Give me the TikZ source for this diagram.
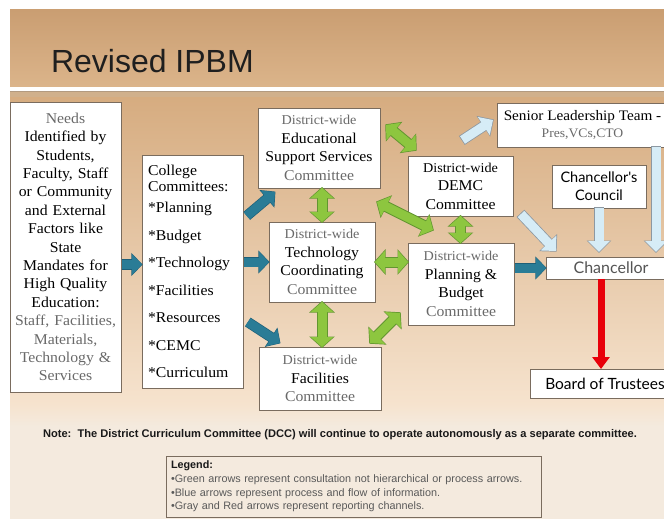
\documentclass[tikz,border=0pt]{standalone}
\usepackage{fontspec}
\setmainfont{Liberation Serif}[FakeStretch=1.05]
\newfontfamily\arialfont{Liberation Sans}
\newfontfamily\tempusfont{Lato}
\usetikzlibrary{arrows.meta, calc, positioning, shadings}
\definecolor{title_top}{RGB}{202, 158, 114}
\definecolor{title_bottom}{RGB}{219, 180, 138}
\definecolor{panel_top}{RGB}{214, 172, 128}
\definecolor{panel_low}{RGB}{246, 227, 206}
\definecolor{note_bg}{RGB}{244, 234, 222}
\definecolor{stripe_fill}{RGB}{208, 176, 140}
\definecolor{stripe_line}{RGB}{178, 154, 128}
\definecolor{box_line}{RGB}{122, 108, 94}
\definecolor{txt_gray}{RGB}{105, 105, 105}
\definecolor{my_teal}{RGB}{42, 124, 150}
\definecolor{my_tealdark}{RGB}{30, 95, 120}
\definecolor{my_green}{RGB}{141, 198, 63}
\definecolor{my_greendark}{RGB}{98, 150, 48}
\definecolor{my_lightblue}{RGB}{214, 236, 246}
\definecolor{my_bluegray}{RGB}{140, 152, 162}
\definecolor{my_red}{RGB}{232, 0, 10}
\pgfdeclareverticalshading{panelshade}{100bp}{color(0bp)=(note_bg); color(36bp)=(note_bg); color(38.6bp)=(panel_low); color(75bp)=(panel_top); color(100bp)=(panel_top)}
\newcommand{\dwline}{{\color{txt_gray}\fontsize{13.5}{18.5}\selectfont District-wide}}
\newcommand{\cmtline}{{\color{txt_gray}Committee}}
\tikzset {
  box/.style = {draw=box_line, line width=0.9pt, fill=white, anchor=north west, align=center, inner sep=3pt, font=\fontsize{15}{18.5}\selectfont},
  roundbox/.style = {box, font=\tempusfont\fontsize{14.5}{18}\selectfont},
  flow/.style = {line width=9pt, draw=my_teal, -{Triangle[width=20pt, length=10pt]}, shorten <=1pt,
    preaction={draw=my_tealdark, line width=10.4pt, -{Triangle[width=22.5pt, length=11.2pt]}, shorten >=-0.6pt}},
  consult/.style = {line width=9pt, draw=my_green, {Triangle[width=22pt, length=10pt]}-{Triangle[width=22pt, length=10pt]},
    preaction={draw=my_greendark, line width=11pt, {Triangle[width=25pt, length=11.5pt]}-{Triangle[width=25pt, length=11.5pt]}, shorten >=-1pt, shorten <=-1pt}},
  report/.style = {line width=9pt, draw=my_lightblue, -{Triangle[width=21pt, length=11pt]},
    preaction={draw=my_bluegray, line width=10.6pt, -{Triangle[width=24pt, length=12.5pt]}, shorten >=-1pt, shorten <=-0.8pt}},
  redline/.style = {line width=7pt, draw=my_red, -{Triangle[width=17pt, length=12pt]}}
}
\pgfdeclarelayer{background}
\pgfsetlayers{background,main}

\begin{document}
\begin{tikzpicture}[x=1pt, y=-1pt, outer sep=0pt]

    \useasboundingbox (0,0) rectangle (664,519);

    \node[anchor=base west, inner sep=0pt, font=\arialfont\fontsize{32}{38}\selectfont, text=black!88, name=title] (title) at (51,73) {Revised IPBM};

    \node[box, minimum width=111pt, minimum height=290pt, text width=105pt, font=\fontsize{15}{18.4}\selectfont, name=needs] (needs) at (10,102)
        {{\color{txt_gray}Needs}\\ Identified by\\ Students,\\ Faculty, Staff\\ or Community\\ and External\\ Factors like\\ State\\ Mandates for\\ High Quality\\ Education:\\
         {\color{txt_gray}Staff, Facilities,}\\ {\color{txt_gray}Materials,}\\ {\color{txt_gray}Technology \&}\\ {\color{txt_gray}Services}};
    \node[box, minimum width=101pt, minimum height=233pt, text width=89pt, inner xsep=6pt, align=left, font=\fontsize{15}{17.5}\selectfont, name=college] (college) at (142,155)
        {College\\[-2pt] Committees:\\[4pt] *Planning\\[10pt] *Budget\\[10pt] *Technology\\[10pt] *Facilities\\[10pt] *Resources\\[10pt] *CEMC\\[10pt] *Curriculum};

    \node[box, minimum width=122pt, minimum height=80pt, name=edsup] (edsup) at (258,108) {\dwline\\ Educational\\ Support Services\\ \cmtline};
    \node[box, minimum width=106pt, minimum height=80pt, name=tech] (tech) at (269,222) {\dwline\\ Technology\\ Coordinating\\ \cmtline};
    \node[box, minimum width=122pt, minimum height=63pt, name=facil] (facil) at (259,347) {\dwline\\ Facilities\\ \cmtline};
    \node[box, minimum width=105pt, minimum height=60pt, name=demc] (demc) at (408,156) {{\fontsize{13.5}{18.5}\selectfont District-wide}\\ DEMC\\ Committee};
    \node[box, minimum width=106pt, minimum height=82pt, name=pb] (pb) at (408,243) {\dwline\\ Planning \&\\ Budget\\ \cmtline};

    \node[box, minimum width=171pt, minimum height=44pt, font=\fontsize{14.5}{17}\selectfont, name=senior] (senior) at (497,103)
        {Senior Leadership Team -\\ {\color{txt_gray}\fontsize{13}{17}\selectfont Pres,VCs,CTO}};
    \node[roundbox, minimum width=94pt, minimum height=43pt, name=council] (council) at (552,165) {Chancellor's\\ Council};
    \node[roundbox, minimum width=130pt, minimum height=22pt, inner ysep=1pt, text=txt_gray!80!black, font=\tempusfont\fontsize{16}{18}\selectfont, name=chanc] (chanc) at (546,257) {Chancellor};
    \node[roundbox, minimum width=150pt, minimum height=29pt, font=\tempusfont\fontsize{15.5}{18}\selectfont, name=board] (board) at (530,369) {Board of Trustees};

    % process and flow of information
    \draw[flow] ([yshift=7pt]needs.east |- college.west) -- ([yshift=7pt]college.west);
    \draw[flow] ($(college.east)+(3,-55)$) -- ($(edsup.south west)+(17,4)$);
    \draw[flow] (college.east |- tech.west) -- (tech.west);
    \draw[flow] ($(college.east)+(4,50)$) -- ($(facil.north west)+(21,-4)$);
    \draw[flow] (pb.east |- chanc.west) -- (chanc.west);

    % consultation
    \draw[consult] ($(edsup.north east)+(6,17)$) -- ($(demc.north west)+(8,-6)$);
    \draw[consult] (tech.north |- edsup.south) -- (tech.north);
    \draw[consult] ($(tech.north east)+(2,-20)$) -- ($(pb.north west)+(25,-13)$);
    \draw[consult] (tech.east) -- (tech.east -| pb.west);
    \draw[consult] (tech.south) -- (tech.south |- facil.north);
    \draw[consult] ($(facil.north east)+(-11,-4)$) -- ($(pb.south west)+(-8,-12)$);
    \draw[consult] (demc.south) -- (demc.south |- pb.north);

    % reporting channels
    \draw[report] ($(demc.north)+(2,-16)$) -- ($(senior.west)+(-4,-5)$);
    \draw[report] ($(demc.south east)+(8,-2)$) -- ($(chanc.north west)+(10,-6)$);
    \draw[report] (council.south) -- ([yshift=5pt]council.south |- chanc.north);
    \draw[report] ([xshift=-12pt]senior.south east) -- ([xshift=-12pt, yshift=5pt]senior.south east |- chanc.north);
    \draw[redline] ([xshift=-10pt]chanc.south) -- ([xshift=-10pt]chanc.south |- board.north);

    \node[font=\arialfont\bfseries\fontsize{11.1}{13}\selectfont, text=black!90, name=note] (note) at (340,435)
        {Note:\ \ The District Curriculum Committee (DCC) will continue to operate autonomously as a separate committee.};
    \node[draw=box_line, line width=0.8pt, anchor=north west, minimum width=375pt, minimum height=61pt, text width=365pt, align=left, inner xsep=5pt, inner ysep=3pt,
          font=\arialfont\fontsize{10.8}{13.6}\selectfont, text=txt_gray!85!black, name=legend] (legend) at (166,456)
        {{\color{black!90}\bfseries Legend:}\\ •Green arrows represent consultation not hierarchical or process arrows.\\ •Blue arrows represent process and flow of information.\\ •Gray and Red arrows represent reporting channels.};

    \begin{pgfonlayer}{background}
        \fill[white] (0,0) rectangle (664,519);
        \shade[top color=title_top, bottom color=title_bottom] (10,10) rectangle (664,86);
        \fill[stripe_fill] (10,91) rectangle (664,97);
        \draw[stripe_line, line width=1pt] (10,91.5) -- (664,91.5);
        \shade[shading=panelshade] (10,97) rectangle (664,519);
    \end{pgfonlayer}
\end{tikzpicture}
\end{document}
